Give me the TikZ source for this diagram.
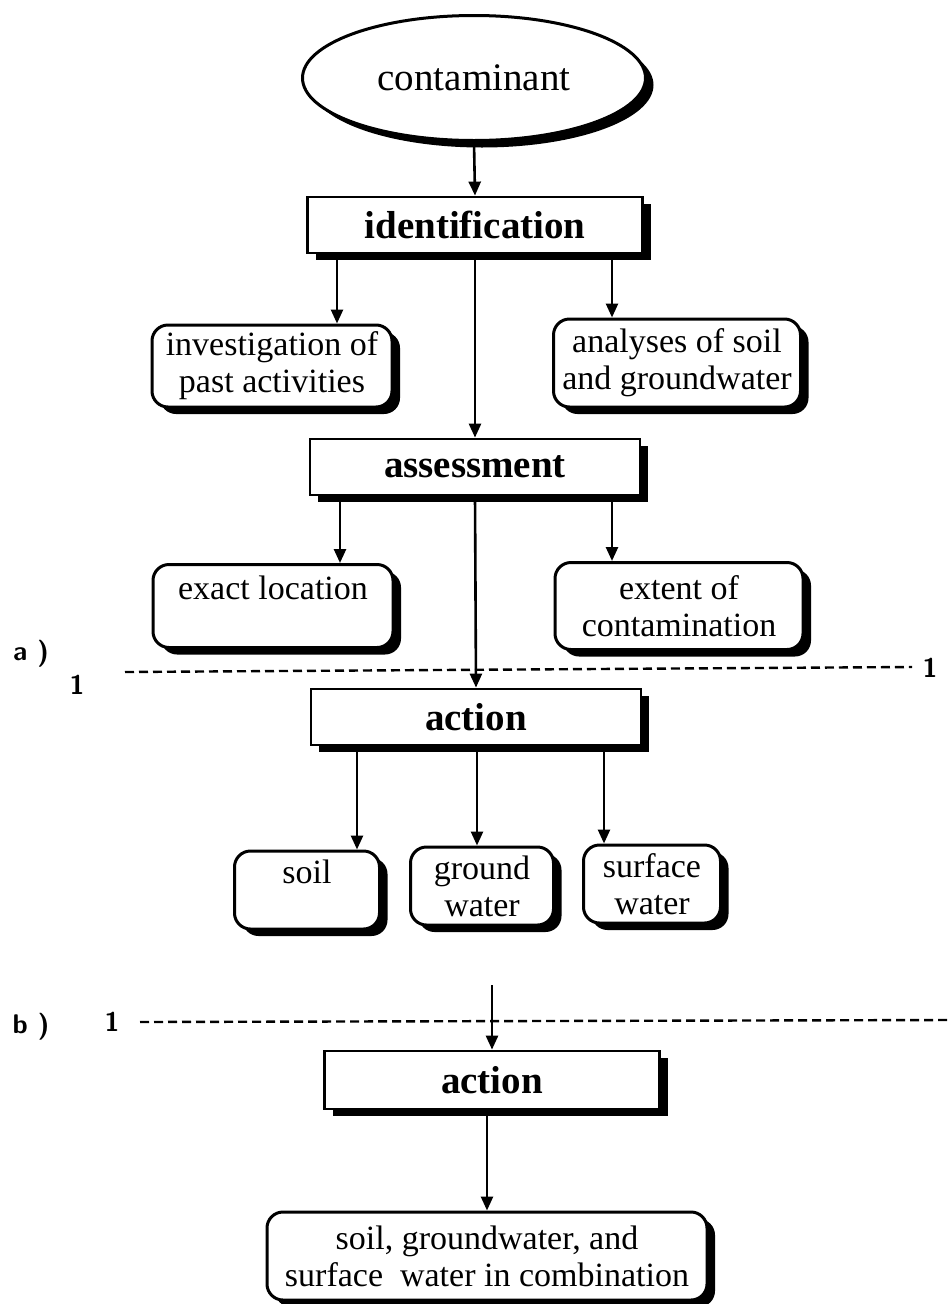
\documentclass[tikz,border=0pt]{standalone}
\usepackage{fontspec}
\setmainfont{Liberation Serif}
\usetikzlibrary{shapes.geometric,shadows,arrows.meta}
\begin{document}
\begin{tikzpicture}[x=1pt,y=-1pt,
  shad/.style={drop shadow={shadow xshift=8pt,shadow yshift=-7pt,fill=black,opacity=1}},
  rbox/.style={draw,line width=3pt,fill=white,rounded corners=16pt,shad,align=center,
     inner sep=0pt,font=\fontsize{34}{37}\selectfont},
  sbox/.style={draw,line width=2.8pt,fill=white,shad,inner sep=0pt,
     font=\fontsize{39}{42}\selectfont\bfseries},
  arr/.style={line width=2.6pt,-{Triangle[length=14pt,width=12pt]}},
  dline/.style={line width=2.4pt,dash pattern=on 9pt off 5pt},
  lab/.style={font=\fontsize{27}{30}\selectfont\sffamily\bfseries}]
\useasboundingbox (0,0) rectangle (949,1304);
\node[ellipse,draw,line width=3pt,fill=white,shad,minimum width=343pt,minimum height=125pt,
  inner sep=0pt,font=\fontsize{39}{42}\selectfont] (cont) at (474,78) {contaminant};
\node[sbox,minimum width=335pt,minimum height=56pt] (ident) at (475,225) {identification};
\node[rbox,minimum width=240pt,minimum height=82pt] (invest) at (272,366) {investigation of\\past activities};
\node[rbox,minimum width=247pt,minimum height=88pt] (analy) at (677,363) {analyses of soil\\and groundwater};
\node[sbox,minimum width=330pt,minimum height=56pt] (assess) at (475,467) {assessment};
\node[rbox,minimum width=240pt,minimum height=83pt] (exact) at (273,606) {exact location\\\mbox{}};
\node[rbox,minimum width=248pt,minimum height=87pt] (extent) at (679,606) {extent of\\contamination};
\node[sbox,minimum width=330pt,minimum height=56pt] (act1) at (476,717) {action};
\node[rbox,minimum width=145pt,minimum height=78pt] (soil) at (307,890) {soil\\\mbox{}};
\node[rbox,minimum width=143pt,minimum height=78pt] (gw) at (482,886) {ground\\water};
\node[rbox,minimum width=137pt,minimum height=78pt] (sw) at (652,884) {surface\\water};
\node[sbox,minimum width=335pt,minimum height=58pt] (act2) at (492,1080) {action};
\node[rbox,minimum width=440pt,minimum height=88pt] (combo) at (487,1256) {soil, groundwater, and\\surface\ \ water in combination};

\node[lab] (la) at (31,654) {a )};
\node[lab] (l1a) at (77,685) {1};
\node[lab] (l1b) at (930,668) {1};
\node[lab] (lb) at (31,1027) {b )};
\node[lab] (l1c) at (112,1022) {1};
\coordinate (da1) at (125,672);
\coordinate (da2) at (912,667);
\coordinate (db1) at (140,1022);
\coordinate (db2) at (949,1020);
\draw[dline] (da1) -- (da2);
\draw[dline] (db1) -- (db2);

\draw[arr] (cont.south) -- (ident.north);
\draw[arr] (ident.south -| 337,0) -- (invest.north -| 337,0);
\draw[arr] (ident.south -| 612,0) -- (analy.north -| 612,0);
\draw[arr] (ident.south) -- (assess.north);
\draw[arr] (assess.south -| 340,0) -- (exact.north -| 340,0);
\draw[arr] (assess.south -| 612,0) -- (extent.north -| 612,0);
\draw[arr] (assess.south) -- (act1.north);
\draw[arr] (act1.south -| 357,0) -- (soil.north -| 357,0);
\draw[arr] (act1.south -| 477,0) -- (gw.north -| 477,0);
\draw[arr] (act1.south -| 604,0) -- (sw.north -| 604,0);
\coordinate (top2) at (492,985);
\draw[arr] (top2) -- (act2.north);
\draw[arr] (act2.south -| 487,0) -- (combo.north -| 487,0);
\end{tikzpicture}
\end{document}
